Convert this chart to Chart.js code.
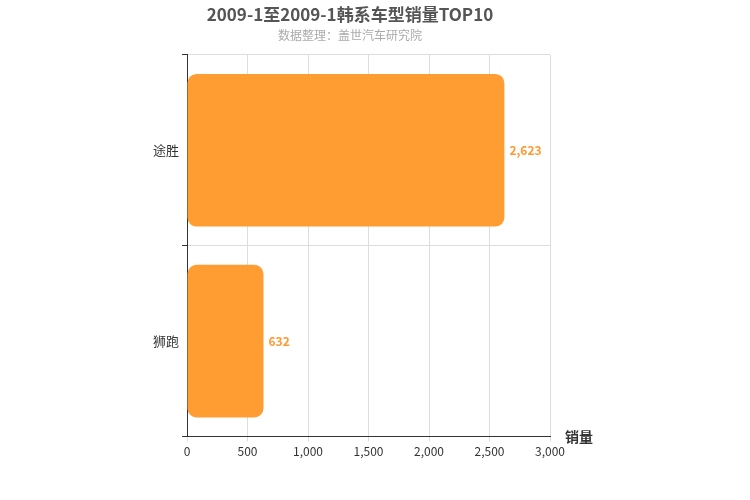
<!DOCTYPE html>
<html>
<head>
<meta charset="utf-8">
<script src="https://cdn.jsdelivr.net/npm/chart.js@4/dist/chart.umd.min.js"></script>
<style>
  html, body { margin: 0; padding: 0; background: #fff; }
</style>
</head>
<body>
<canvas id="chart" width="750" height="500"></canvas>
<script>
const categories = ["途胜", "狮跑"];
const sales = [2623, 632];
const xTicks = [0, 500, 1000, 1500, 2000, 2500, 3000];

const fontFamily = "'Noto Sans CJK SC', 'Liberation Sans', sans-serif";

// value labels next to each bar and the axis name
const extras = {
    id: "extras",
    afterDatasetsDraw: function (chart) {
        const ctx = chart.ctx;
        const meta = chart.getDatasetMeta(0);
        ctx.save();
        ctx.font = "bold 12px " + fontFamily;
        ctx.fillStyle = "#FF9933";
        ctx.textBaseline = "middle";
        meta.data.forEach(function (bar, i) {
            ctx.fillText(sales[i].toLocaleString("en-US"), bar.x + 5, bar.y);
        });
        ctx.fillStyle = "#333";
        ctx.font = "bold 14px " + fontFamily;
        ctx.fillText("销量", chart.chartArea.right + 15, chart.chartArea.bottom);
        ctx.restore();
    }
};

new Chart(document.getElementById("chart"), {
    type: "bar",
    data: {
        labels: categories,
        datasets: [{
            data: sales,
            backgroundColor: "#FF9D33",
            borderRadius: 9,
            borderSkipped: false,
            categoryPercentage: 0.8,
            barPercentage: 1.0
        }]
    },
    options: {
        indexAxis: "y",
        responsive: false,
        animation: false,
        devicePixelRatio: 1,
        layout: { padding: { left: 150, right: 200, top: 0, bottom: 38 } },
        plugins: {
            legend: { display: false },
            tooltip: { enabled: false },
            title: {
                display: true,
                text: "2009-1至2009-1韩系车型销量TOP10",
                color: "#555",
                font: { size: 17, weight: "bold", family: fontFamily },
                padding: { top: 4, bottom: 4 }
            },
            subtitle: {
                display: true,
                text: "数据整理：盖世汽车研究院",
                color: "#aaa",
                font: { size: 12, family: fontFamily },
                padding: { bottom: 12 }
            }
        },
        scales: {
            x: {
                min: 0,
                max: 3000,
                afterBuildTicks: function (axis) {
                    axis.ticks = xTicks.map(function (v) { return { value: v }; });
                },
                grid: { color: "#ddd", drawTicks: true, tickLength: 5 },
                border: { color: "#333" },
                ticks: {
                    color: "#333",
                    font: { size: 12, family: fontFamily },
                    callback: function (v) { return v.toLocaleString("en-US"); }
                }
            },
            y: {
                grid: { color: "#ddd", offset: true, tickLength: 5, tickColor: "#333" },
                border: { color: "#333" },
                ticks: { color: "#333", font: { size: 13, family: fontFamily } }
            }
        }
    },
    plugins: [extras]
});
</script>
</body>
</html>
